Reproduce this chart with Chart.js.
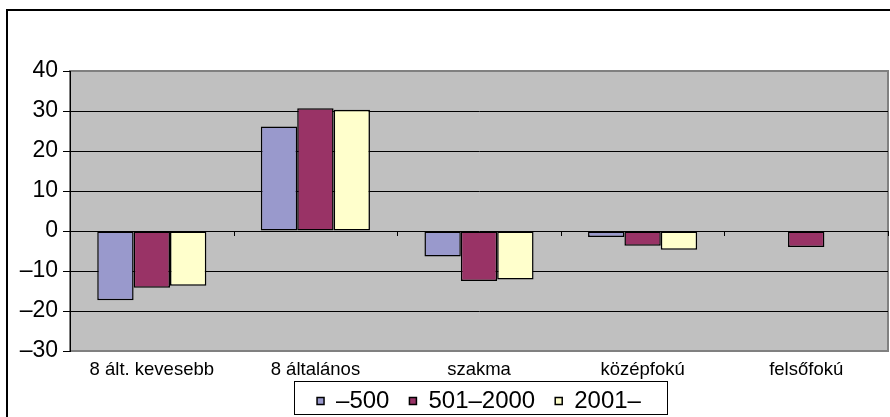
<!DOCTYPE html>
<html>
<head>
<meta charset="utf-8">
<script src="https://cdn.jsdelivr.net/npm/chart.js@4"></script>
<style>
  html, body { margin: 0; padding: 0; background: #fff; }
  #wrap { position: relative; width: 890px; height: 417px; overflow: hidden; }
  #frame { position: absolute; left: 6px; top: 9px; width: 950px; height: 450px;
           border-left: 2px solid #000; border-top: 2px solid #000; }
  canvas { position: absolute; left: 0; top: 0; }
</style>
</head>
<body>
<div id="wrap">
  <div id="frame"></div>
  <canvas id="c" width="890" height="417"></canvas>
</div>
<script>
const categories = ['8 ált. kevesebb', '8 általános', 'szakma', 'középfokú', 'felsőfokú'];
const seriesNames = ['–500', '501–2000', '2001–'];
const s500 = [-17.3, 26.1, -6.4, -1.5, null];
const s501_2000 = [-14.2, 30.7, -12.5, -3.7, -4.0];
const s2001 = [-13.7, 30.3, -12.1, -4.7, null];
const yTicks = [-30, -20, -10, 0, 10, 20, 30, 40];

const colors = ['#9999CC', '#993366', '#FFFFCC'];
const FONT = "'Liberation Sans', Arial, sans-serif";

const bgPlugin = {
  id: 'bg',
  beforeDraw(chart) {
    const { ctx, chartArea: a } = chart;
    ctx.save();
    ctx.fillStyle = '#C0C0C0';
    ctx.fillRect(a.left, a.top, a.right - a.left, a.bottom - a.top);
    ctx.strokeStyle = '#808080';
    ctx.lineWidth = 2;
    ctx.strokeRect(a.left, a.top, a.right - a.left, a.bottom - a.top);
    ctx.restore();
  },
  afterDatasetsDraw(chart) {
    const { ctx } = chart;
    const x = chart.scales.x, y = chart.scales.y;
    const y0 = y.getPixelForValue(0);
    const step = x.getPixelForValue(1) - x.getPixelForValue(0);
    ctx.save();
    ctx.strokeStyle = '#000';
    ctx.lineWidth = 1;
    const n = categories.length;
    for (let i = 0; i <= n; i++) {
      const px = Math.round(x.getPixelForValue(0) - step / 2 + i * step) + 0.5;
      ctx.beginPath();
      ctx.moveTo(px, y0);
      ctx.lineTo(px, y0 + 5);
      ctx.stroke();
    }
    ctx.restore();
  },
  afterDraw(chart) {
    const lg = chart.legend;
    if (!lg || !lg.legendHitBoxes || !lg.legendHitBoxes.length) return;
    const hb = lg.legendHitBoxes;
    let l = Infinity, r = -Infinity, t = Infinity, b = -Infinity;
    hb.forEach(h => { l = Math.min(l, h.left); r = Math.max(r, h.left + h.width);
                      t = Math.min(t, h.top); b = Math.max(b, h.top + h.height); });
    const ctx = chart.ctx;
    ctx.save();
    ctx.strokeStyle = '#000';
    ctx.lineWidth = 1;
    const cy = (t + b) / 2;
    ctx.strokeRect(Math.round(l - 23) + 0.5, Math.round(cy - 20) + 0.5, Math.round(r - l + 49), 33);
    ctx.restore();
  }
};

new Chart(document.getElementById('c'), {
  type: 'bar',
  data: {
    labels: categories,
    datasets: [
      { label: seriesNames[0], data: s500, backgroundColor: colors[0] },
      { label: seriesNames[1], data: s501_2000, backgroundColor: colors[1] },
      { label: seriesNames[2], data: s2001, backgroundColor: colors[2] }
    ].map(d => Object.assign(d, { borderColor: '#000', borderWidth: 1.5, borderSkipped: false }))
  },
  options: {
    responsive: false,
    animation: false,
    devicePixelRatio: 1,
    layout: { padding: { left: 0, right: 2, top: 71, bottom: 0 } },
    datasets: { bar: { categoryPercentage: 0.667, barPercentage: 1.0 } },
    plugins: {
      tooltip: { enabled: false },
      legend: {
        position: 'bottom',
        fullSize: false,
        maxHeight: 48,
        labels: {
          font: { family: FONT, size: 24 },
          color: '#000',
          boxWidth: 7,
          boxHeight: 7,
          padding: 20
        }
      }
    },
    scales: {
      x: {
        grid: { display: false, drawTicks: false },
        border: { display: false },
        ticks: { font: { family: FONT, size: 18.5 }, color: '#000', padding: 8, maxRotation: 0, autoSkip: false },
        afterFit(s) { s.height = 18; s._computeLabelArea = () => undefined; }
      },
      y: {
        min: -30, max: 40,
        afterBuildTicks(s) { s.ticks = yTicks.map(v => ({ value: v })); },
        grid: {
          color: ctx => (ctx.tick && (ctx.tick.value === 40 || ctx.tick.value === -30)) ? '#808080' : '#000',
          lineWidth: 1,
          tickLength: 7,
          tickColor: '#000'
        },
        border: { display: true, color: '#000', width: 1 },
        ticks: {
          font: { family: FONT, size: 23 },
          color: '#000',
          padding: 5,
          callback: v => String(v).replace('-', '–')
        },
        afterFit(s) { s.width = 70; }
      }
    }
  },
  plugins: [bgPlugin]
});
</script>
</body>
</html>
